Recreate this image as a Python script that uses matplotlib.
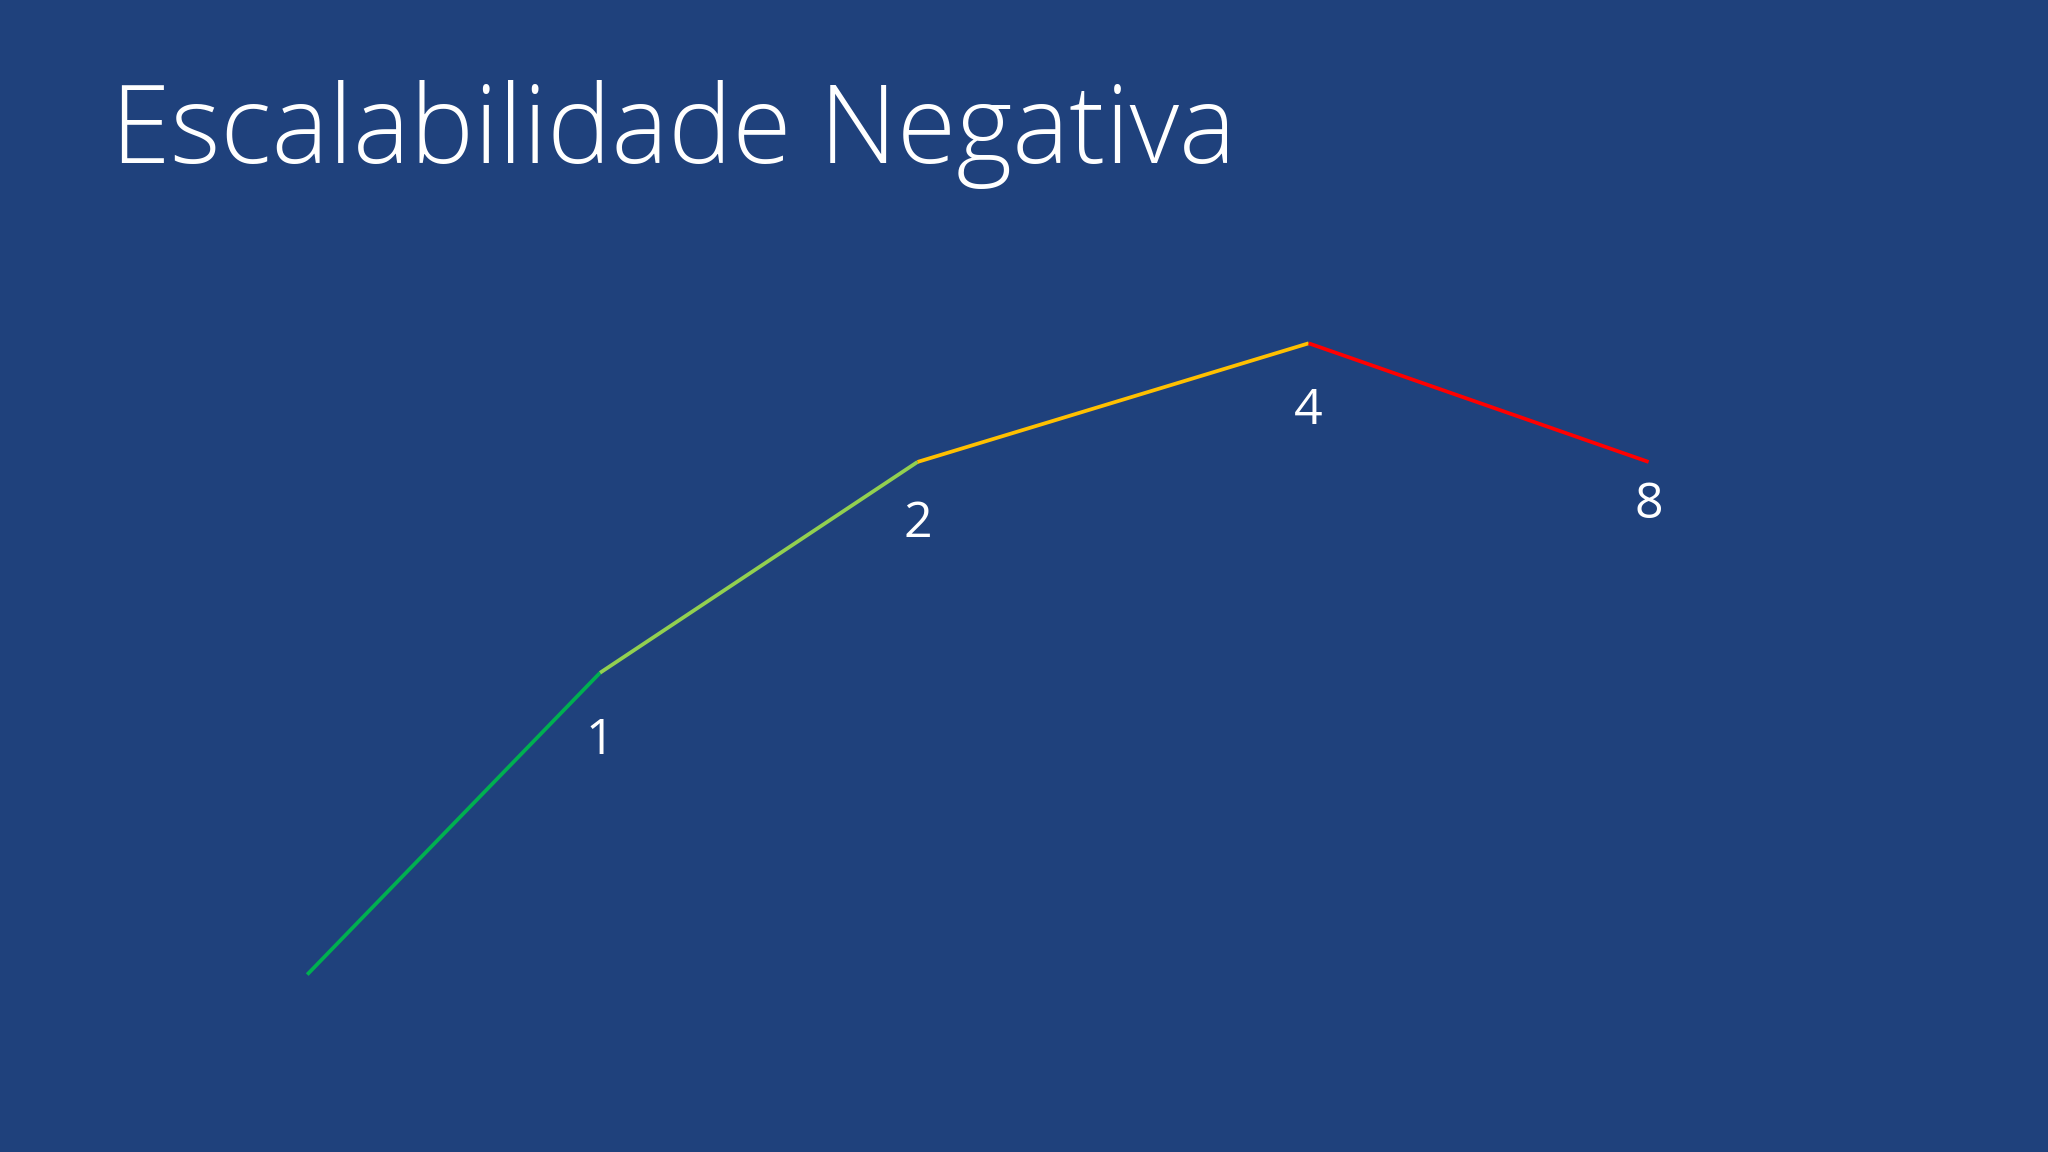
import matplotlib
matplotlib.use("Agg")
from matplotlib import pyplot as plt

# escalabilidade: posicao horizontal (%) e desempenho (%) de cada ponto
x_vals = [15.0, 29.3, 44.8, 63.9, 80.5]
y_vals = [15.4, 41.6, 59.9, 70.2, 59.9]
point_labels = ["", "1", "2", "4", "8"]
seg_colors = ["#00B050", "#92D050", "#FFC000", "#FF0000"]
title = "Escalabilidade Negativa"

bg = "#1F417C"
label_offsets = [0, -49, -45, -49, -31]  # em pontos, abaixo de cada vertice

fig = plt.figure(figsize=(20.48, 11.52), dpi=100, facecolor=bg)
ax = fig.add_axes([0, 0, 1, 1])
ax.set_facecolor(bg)
ax.set_xlim(0, 100)
ax.set_ylim(0, 100)
ax.axis("off")

for i, c in enumerate(seg_colors):
    ax.plot(x_vals[i:i + 2], y_vals[i:i + 2], color=c, linewidth=2.7,
            solid_capstyle="butt")

for x, y, lab, off in zip(x_vals, y_vals, point_labels, label_offsets):
    if lab:
        ax.annotate(lab, (x, y), xytext=(0, off), textcoords="offset points",
                    ha="center", va="center", color="white", fontsize=36,
                    family=["Open Sans", "DejaVu Sans"])

fig.text(111 / 2048, 1 - 163 / 1152, title, color="white", fontsize=77.5,
         family=["Open Sans", "DejaVu Sans"], fontweight="light",
         ha="left", va="baseline")

fig.savefig("out.png", dpi=100, facecolor=bg)
